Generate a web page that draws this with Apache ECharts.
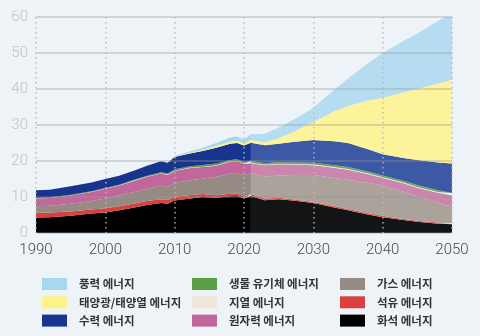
<!DOCTYPE html>
<html>
<head>
<meta charset="utf-8">
<script src="https://cdn.jsdelivr.net/npm/echarts@6/dist/echarts.min.js"></script>
<style>
html,body{margin:0;padding:0;background:#edf3f7;}
#c{width:480px;height:336px;}
</style>
</head>
<body>
<div id="c"></div>
<script>
var years =   [1990,1992,1995,1998,2000,2002,2004,2006,2008,2009,2010,2012,2014,2016,2018,2019,2020,2021,2023,2025,2027,2030,2033,2035,2038,2040,2043,2045,2048,2050];
var coal =    [4.3, 4.4, 4.8, 5.4, 5.7, 6.3, 7.0, 7.8, 8.3, 8.1, 9.0, 9.5, 10.0,9.8, 10.2,10.3,9.6, 10.3,9.1, 9.4, 9.0, 8.3, 7.1, 6.3, 5.1, 4.4, 3.6, 3.1, 2.6, 2.4];
var oil =     [1.3, 1.3, 1.2, 1.1, 1.2, 1.1, 1.1, 1.1, 1.1, 1.1, 1.1, 1.0, 0.8, 0.7, 0.7, 0.7, 0.6, 0.5, 0.5, 0.4, 0.4, 0.4, 0.4, 0.4, 0.4, 0.4, 0.3, 0.3, 0.3, 0.4];
var gas =     [1.8, 1.9, 2.1, 2.4, 2.7, 3.0, 3.2, 3.3, 3.8, 3.6, 3.8, 4.1, 4.3, 5.1, 5.6, 5.7, 5.9, 5.7, 6.1, 6.2, 6.7, 7.4, 7.8, 8.1, 8.4, 8.3, 7.5, 6.8, 5.6, 4.4];
var nuclear = [2.1, 2.1, 2.3, 2.5, 2.7, 2.8, 3.1, 3.4, 3.3, 3.4, 3.3, 3.4, 3.2, 3.1, 3.3, 3.3, 3.1, 2.9, 3.1, 3.1, 2.9, 2.7, 2.8, 2.8, 2.4, 2.2, 2.4, 2.4, 2.7, 3.2];
var geo =     [0.05,0.05,0.05,0.05,0.05,0.05,0.1, 0.1, 0.1, 0.1, 0.1, 0.1, 0.1, 0.1, 0.1, 0.1, 0.1, 0.1, 0.15,0.15,0.15,0.2, 0.2, 0.2, 0.2, 0.2, 0.2, 0.2, 0.2, 0.2];
var bio =     [0.15,0.15,0.15,0.15,0.15,0.15,0.2, 0.2, 0.3, 0.3, 0.4, 0.4, 0.5, 0.5, 0.4, 0.4, 0.5, 0.5, 0.4, 0.45,0.45,0.5, 0.5, 0.5, 0.5, 0.5, 0.5, 0.5, 0.5, 0.5];
var hydro =   [2.2, 2.1, 2.4, 2.4, 2.5, 2.5, 2.5, 2.8, 3.0, 2.9, 3.4, 3.5, 3.9, 4.4, 4.5, 4.5, 4.5, 5.1, 5.0, 5.1, 5.7, 6.3, 6.7, 6.7, 6.2, 5.9, 6.3, 7.0, 7.7, 8.2];
var solar =   [0,   0,   0,   0,   0,   0,   0,   0,   0,   0.02,0.1, 0.2, 0.3, 0.5, 0.6, 0.6, 0.6, 0.7, 0.8, 1.6, 2.7, 5.0, 8.3, 10.3,13.7,15.7,18.2,19.7,21.9,23.3];
var wind =    [0,   0,   0,   0,   0,   0,   0,   0.05,0.1, 0.15,0.2, 0.4, 0.6, 0.8, 1.1, 1.2, 1.1, 1.6, 2.4, 2.9, 3.3, 3.9, 6.0, 7.6, 10.4,12.4,14.3,15.4,17.4,18.5];
var splitYear = 2021;
var yTicks = [0,10,20,30,40,50,60];
var xTicks = [1990,2000,2010,2020,2030,2040,2050];

var names = ['화석 에너지','석유 에너지','가스 에너지','원자력 에너지','지열 에너지','생물 유기체 에너지','수력 에너지','태양광/태양열 에너지','풍력 에너지'];
var values = [coal, oil, gas, nuclear, geo, bio, hydro, solar, wind];
var histColors = ['#000000','#d9403e','#958b84','#c1679b','#f0e6dc','#5a9e45','#17348f','#fdf285','#a8d8ef'];
var projColors = ['#131416','#df5a56','#aaa29b','#cc85ac','#f3ece4','#6dab58','#3d58a4','#fdf39a','#b5dcf0'];

var series = [];
['h','p'].forEach(function(part){
  values.forEach(function(arr, k){
    var data = [];
    years.forEach(function(y, i){
      if ((part === 'h' && y <= splitYear) || (part === 'p' && y >= splitYear)) data.push([arr[i], y]);
    });
    series.push({
      name: names[k], type: 'line', stack: part, data: data, encode: {x: 1, y: 0},
      smooth: false, showSymbol: false, symbol: 'none',
      lineStyle: {width: 0}, silent: true,
      itemStyle: {color: histColors[k]},
      areaStyle: {color: part === 'h' ? histColors[k] : projColors[k], opacity: 1}
    });
  });
});

var legendText = {fontSize: 11.5, fontWeight: 'bold', color: '#333', fontFamily: 'Noto Sans CJK KR', padding: [0,0,0,7]};
function leg(left, items){
  return {left: left, top: 273, orient: 'vertical', itemWidth: 25, itemHeight: 12, itemGap: 6.3,
    icon: 'rect', data: items, textStyle: legendText, selectedMode: false};
}

var chart = echarts.init(document.getElementById('c'));
chart.setOption({
  backgroundColor: '#edf3f7',
  animation: false,
  grid: {left: 36, right: 28, top: 17, bottom: 103},
  legend: [
    leg(37, ['풍력 에너지','태양광/태양열 에너지','수력 에너지']),
    leg(187, ['생물 유기체 에너지','지열 에너지','원자력 에너지']),
    leg(335, ['가스 에너지','석유 에너지','화석 에너지'])
  ],
  xAxis: {
    type: 'value', min: xTicks[0], max: xTicks[xTicks.length-1], interval: 10, z: 5,
    axisLine: {show: false}, axisTick: {show: false},
    axisLabel: {color: '#4a4a4a', fontSize: 15, margin: 10, fontFamily: 'Roboto', fontWeight: 300,
      formatter: function(v){ return String(v); }},
    splitLine: {show: true, lineStyle: {color: 'rgba(185,185,185,0.9)', type: [1.5,3.5], width: 1.5}}
  },
  yAxis: {
    type: 'value', min: yTicks[0], max: yTicks[yTicks.length-1], interval: 10, z: 5,
    axisLine: {show: false}, axisTick: {show: false},
    axisLabel: {color: '#c2c2c2', fontSize: 15, margin: 8, fontFamily: 'Roboto', fontWeight: 300},
    splitLine: {show: true, lineStyle: {color: 'rgba(150,150,150,0.45)', width: 1.5}}
  },
  series: series
});
</script>
</body>
</html>
